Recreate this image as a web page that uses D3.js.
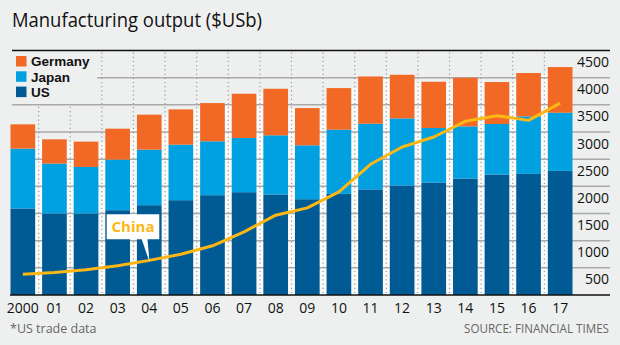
<!DOCTYPE html>
<html>
<head>
<meta charset="utf-8">
<script src="https://cdn.jsdelivr.net/npm/d3@7"></script>
<style>
  body { margin: 0; background: #eef0ef; }
  svg { display: block; font-family: "Open Sans", sans-serif; }
</style>
</head>
<body>
<div class="container"></div>
<script>
var years = ["2000","01","02","03","04","05","06","07","08","09","10","11","12","13","14","15","16","17"];
var us = [1592,1500,1500,1561,1653,1745,1837,1892,1849,1763,1861,1944,2015,2070,2143,2217,2229,2284];
var japan = [1102,919,857,931,1023,1022,992,998,1090,992,1182,1209,1236,1003,961,930,1059,1071];
var germany = [447,446,466,569,643,649,703,814,857,685,765,869,802,852,894,772,797,840];
var china = [380,416,465,538,637,750,906,1163,1469,1604,1898,2406,2724,2908,3196,3300,3214,3532];
var yTicks = [500,1000,1500,2000,2500,3000,3500,4000,4500];
var seriesNames = ["US", "Japan", "Germany"];
var legendNames = ["Germany", "Japan", "US"];

var colors = { US: "#005b95", Japan: "#00a0e1", Germany: "#f26825" };
var chinaColor = "#fdb714";

var width = 620, height = 345;
var svg = d3.select(".container").append("svg")
    .attr("width", width)
    .attr("height", height);

svg.append("rect").attr("width", width).attr("height", height).attr("fill", "#eef0ef");

var rows = years.map(function(y, i) {
    return { year: y, US: us[i], Japan: japan[i], Germany: germany[i] };
});
var stacked = d3.stack().keys(seriesNames)(rows);

var x = d3.scaleBand().domain(years).range([10.5, 572.5]).paddingInner(0.22).paddingOuter(0);
var y = d3.scaleLinear().domain([0, 4500]).range([295, 50.5]);
var bw = x.bandwidth();
var gapMid = function(i) { return x(years[i]) + bw + (x.step() - bw) / 2; };

// title
svg.append("text")
    .attr("x", 12).attr("y", 27)
    .attr("font-size", 20)
    .attr("fill", "#111")
    .attr("textLength", 250)
    .attr("lengthAdjust", "spacingAndGlyphs")
    .text("Manufacturing output ($USb)");

// white strips between bars
var tops = rows.map(function(d) { return d.US + d.Japan + d.Germany; });
for (var i = 0; i < years.length - 1; i++) {
    var yTop = y(Math.min(tops[i], tops[i + 1]));
    svg.append("rect")
        .attr("x", x(years[i]) + bw)
        .attr("y", yTop)
        .attr("width", x(years[i + 1]) - x(years[i]) - bw)
        .attr("height", y(0) - yTop)
        .attr("fill", "#fafafa");
}

// gridlines
svg.append("g").selectAll("line")
    .data(yTicks.filter(function(t) { return t < 4500; }))
    .enter().append("line")
    .attr("x1", function(d) { return d == 4000 ? 97 : 12; })
    .attr("x2", 610)
    .attr("y1", function(d) { return y(d); })
    .attr("y2", function(d) { return y(d); })
    .attr("stroke", "#a9aaa9")
    .attr("stroke-width", 1.5);

// bars
svg.append("g").selectAll("g")
    .data(stacked)
    .enter().append("g")
    .attr("fill", function(d) { return colors[d.key]; })
    .selectAll("rect")
    .data(function(d) { return d; })
    .enter().append("rect")
    .attr("x", function(d) { return x(d.data.year); })
    .attr("y", function(d) { return y(d[1]); })
    .attr("width", bw)
    .attr("height", function(d) { return y(d[0]) - y(d[1]); });

// dotted separators
svg.append("g").selectAll("line")
    .data(d3.range(years.length - 1))
    .enter().append("line")
    .attr("x1", function(i) { return gapMid(i); })
    .attr("x2", function(i) { return gapMid(i); })
    .attr("y1", function(i) { return i < 2 ? y(3500) + 2 : y(4500) + 2; })
    .attr("y2", y(0))
    .attr("stroke", "#9a9a9a")
    .attr("stroke-width", 1.2)
    .attr("stroke-dasharray", "1.2,3");

// top line and baseline
svg.append("line").attr("x1", 12).attr("x2", 610).attr("y1", y(4500)).attr("y2", y(4500))
    .attr("stroke", "#111").attr("stroke-width", 1.5);
svg.append("line").attr("x1", 10).attr("x2", 610).attr("y1", y(0)).attr("y2", y(0))
    .attr("stroke", "#111").attr("stroke-width", 1.5);

// y labels (right side, sitting just under their gridline)
svg.append("g").selectAll("text")
    .data(yTicks)
    .enter().append("text")
    .attr("x", 609)
    .attr("y", function(d) { return y(d) + 16.5; })
    .attr("text-anchor", "end")
    .attr("font-size", 14)
    .attr("fill", "#111")
    .text(function(d) { return d; });

// x labels
svg.append("g").selectAll("text")
    .data(years)
    .enter().append("text")
    .attr("x", function(d) { return x(d) + bw / 2; })
    .attr("y", 313)
    .attr("text-anchor", "middle")
    .attr("font-size", 14)
    .attr("fill", "#111")
    .text(function(d) { return d; });

// legend
var legend = svg.append("g").selectAll("g")
    .data(legendNames)
    .enter().append("g")
    .attr("transform", function(d, i) { return "translate(16," + (56 + i * 15.3) + ")"; });
legend.append("rect")
    .attr("width", 10.5).attr("height", 10.5)
    .attr("fill", function(d) { return colors[d]; });
legend.append("text")
    .attr("x", 15).attr("y", 10.4)
    .attr("font-family", "'Liberation Sans', sans-serif")
    .attr("font-size", 13.5)
    .attr("font-weight", "bold")
    .attr("fill", "#111")
    .text(function(d) { return d; });

// China line
var line = d3.line()
    .x(function(d, i) { return x(years[i]) + bw / 2; })
    .y(function(d) { return y(d); });
svg.append("path")
    .datum(china)
    .attr("d", line)
    .attr("fill", "none")
    .attr("stroke", chinaColor)
    .attr("stroke-width", 3)
    .attr("stroke-linejoin", "round");

// China callout
var callout = svg.append("g");
callout.append("path")
    .attr("d", "M106.7,214.3 H159.3 V239.3 H147.5 L149.5,262 L141.7,239.3 H106.7 Z")
    .attr("fill", "#fff");
callout.append("text")
    .attr("x", 133).attr("y", 232)
    .attr("text-anchor", "middle")
    .attr("font-size", 15)
    .attr("font-weight", "bold")
    .attr("fill", chinaColor)
    .text("China");

// footnotes
svg.append("text")
    .attr("x", 10).attr("y", 333)
    .attr("font-size", 12.5)
    .attr("fill", "#666")
    .text("*US trade data");
svg.append("text")
    .attr("x", 609).attr("y", 333)
    .attr("text-anchor", "end")
    .attr("font-size", 12.5)
    .attr("fill", "#666")
    .attr("textLength", 145)
    .attr("lengthAdjust", "spacingAndGlyphs")
    .text("SOURCE: FINANCIAL TIMES");
</script>
</body>
</html>
